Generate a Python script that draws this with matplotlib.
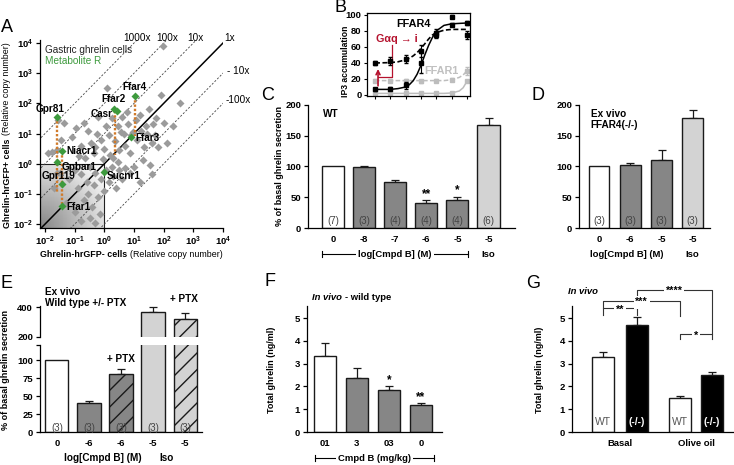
import numpy as np
import matplotlib
matplotlib.use('Agg')
import matplotlib.pyplot as plt
from matplotlib.lines import Line2D
from matplotlib.ticker import NullLocator

plt.rcParams.update({
    'font.family': ['Liberation Sans', 'DejaVu Sans'],
    'font.size': 7,
    'mathtext.fontset': 'custom',
    'mathtext.rm': 'Liberation Sans',
    'mathtext.bf': 'Liberation Sans:bold',
    'mathtext.it': 'Liberation Sans:italic',
    'hatch.color': 'black',
    'hatch.linewidth': 1.0,
    'axes.linewidth': 0.9,
})

# ---------------- data ----------------
# A: receptor expression, log10 copy numbers (GFP- cells, GFP+ cells)
gray_log_x = [-1.9, -1.75, -1.6, -1.55, -1.45, -1.35, -1.1, -0.95, -0.8, -0.7, -0.55, -0.45,
              -0.35, -0.25, -0.2, -0.1, 0.0, 0.05, 0.1, 0.15, 0.2, 0.25, 0.35, 0.45, 0.5,
              0.55, 0.6, 0.7, 0.75, 0.8, 0.85, 0.95, 1.05, 1.1, 1.2, 1.25, 1.35, 1.45, 1.5,
              1.6, 1.65, 1.75, 1.8, 1.92, 2.0, 2.1, 2.3, 2.55, 1.98,
              -1.5, -1.2, -1.0, -0.9, -0.8, -0.7, -0.6, -0.55, -0.5, -0.4, -0.35, -0.3,
              -0.2, -0.15, -0.1, 0.0, 0.05, 0.15, 0.25, 0.3, 0.4, 0.5, 0.6, 0.7, 0.85,
              1.0, 1.3, 1.55, 1.6, 1.2, -1.7, -1.3, -1.0, -0.8, -0.5, -0.3, -1.6,
              -0.65, -0.3, 0.3, 0.9, 1.4, -0.05, 0.45, -0.85, 1.7, 0.65]
gray_log_y = [0.35, 0.4, 0.45, 1.45, 0.8, 1.35, 0.9, 1.2, 0.6, 1.35, 1.1, 0.7,
              0.35, 1.0, 1.55, 0.8, 0.5, 1.25, 2.5, 0.95, 0.3, 1.5, 0.75, 1.25, 0.45,
              1.05, 1.55, 0.6, 1.7, 1.3, 0.35, 1.05, 1.45, 0.8, 1.6, 1.1, 0.55, 1.0, 1.8,
              0.7, 1.3, 1.5, 0.55, 2.28, 1.35, 0.7, 1.25, 2.0, 3.89,
              -0.3, -0.5, -0.2, -0.8, -0.35, -1.2, -0.6, -1.0, -0.1, -1.45, -0.7, -0.3,
              -1.1, -1.65, -0.5, -0.9, -0.2, -0.6, -0.1, -0.4, -0.8, -0.2, -0.5, -0.15, -0.3,
              -0.1, 0.12, -0.05, -0.35, -0.6, -0.8, -1.3, -1.6, -1.9, -1.8, -1.95, -0.3,
              0.2, 0.55, 0.2, 0.95, 1.25, 0.15, 0.05, 0.25, 0.95, 1.0]
green_names = ['Gpr81', 'Niacr1', 'Gpbar1', 'Gpr119', 'Ffar1', 'Ffar2', 'Casr', 'Ffar4', 'Ffar3', 'Sucnr1']
green_x = [0.026, 0.038, 0.026, 0.038, 0.038, 2.1, 2.6, 10.7, 7.8, 1.0]
green_y = [35, 2.6, 1.1, 0.21, 0.04, 65, 54, 170, 7.9, 0.55]
orange_x = [0.026, 0.038, 2.3, 10.7]
orange_top = [35, 2.6, 55, 170]
orange_bottom = [0.12, 0.04, 2.0, 8.0]
fold_lines = [1000, 100, 10, 0.1, 0.01]

# B: IP3 accumulation
b_ticklabels = ['0', '-10', '-9', '-8', '-7', '-6', '-5']
b_pos = [0, 1, 2, 3, 4, 5, 6]
ffar4 = [7, 8, 12, 40, 77, 98, 90]
ffar4_err = [2, 2, 4, 12, 5, 2, 2]
ffar4_gi = [40, 42, 45, 55, 75, 88, 75]
ffar4_gi_err = [3, 5, 5, 8, 4, 2, 5]
ffar1 = [2, 2, 2, 2, 2, 3, 17]
ffar1_gi = [18, 18, 18, 17, 18, 19, 30]
ffar1_gi_err = [2, 2, 2, 2, 2, 2, 5]
fit_x = [0, 1, 1.5, 2, 2.25, 2.5, 2.75, 3, 3.25, 3.5, 3.75, 4, 4.5, 5, 6]
ffar4_fit = [7, 7, 8, 10, 13, 18, 26, 37, 50, 62, 72, 80, 87, 89, 90]
ffar4_gi_fit = [40, 40.5, 41.5, 44, 46, 49, 53, 58, 64, 70, 75, 78, 81, 82, 82]
ffar1_fit_x = [0, 4.5, 5, 5.5, 5.75, 6]
ffar1_fit = [2, 2, 2.5, 5, 9, 17]
ffar1_gi_fit = [18, 18, 19, 22, 25, 30]

# C: WT ex vivo
c_labels = ['0', '-8', '-7', '-6', '-5', '-5']
c_vals = [100, 99, 75, 40, 45, 168]
c_errs = [0, 2, 3, 6, 6, 11]
c_n = ['(7)', '(3)', '(4)', '(4)', '(4)', '(6)']
c_sig = ['', '', '', '**', '*', '']

# D: FFAR4(-/-) ex vivo
d_labels = ['0', '-6', '-5', '-5']
d_vals = [100, 102, 111, 178]
d_errs = [0, 3, 15, 14]
d_n = ['(3)', '(3)', '(3)', '(3)']

# E: WT +/- PTX
e_labels = ['0', '-6', '-6', '-5', '-5']
e_vals = [100, 40, 81, 370, 325]
e_errs = [0, 3.5, 7, 30, 35]
e_n = ['(3)', '(3)', '(3)', '(3)', '(3)']
e_ptx = [False, False, True, False, True]

# F: in vivo wild type
f_labels = ['01', '3', '03', '0']
f_vals = [3.35, 2.38, 1.85, 1.17]
f_errs = [0.55, 0.43, 0.17, 0.10]
f_sig = ['', '', '*', '**']

# G: in vivo WT vs FFAR4(-/-)
g_pos = [0, 1, 2.3, 3.25]
g_vals = [3.3, 4.68, 1.48, 2.52]
g_errs = [0.2, 0.37, 0.08, 0.10]
g_geno = ['WT', '(-/-)', 'WT', '(-/-)']
g_groups = ['Basal', 'Olive oil']

DARK = '#868686'
LIGHT = '#d3d3d3'
EDGE = '#1a1a1a'
TICK_FS = 6.8

W, H = 734, 465
fig = plt.figure(figsize=(W / 100, H / 100), dpi=100)


def add_ax(l, t, r, b):
    return fig.add_axes([l / W, 1 - b / H, (r - l) / W, (b - t) / H])


def ftxt(x, y, s, **kw):
    return fig.text(x / W, 1 - y / H, s, **kw)


def fline(xs, ys, **kw):
    fig.add_artist(Line2D([x / W for x in xs], [1 - y / H for y in ys], **kw))


def bracket(x0, x1, y, label, fs=6.8):
    fline([x0, x1], [y, y], color='k', lw=0.8)
    fline([x0, x0], [y - 3, y + 3], color='k', lw=0.8)
    fline([x1, x1], [y - 3, y + 3], color='k', lw=0.8)
    ftxt((x0 + x1) / 2, y, label, ha='center', va='center', weight='bold', fontsize=fs,
         bbox=dict(facecolor='white', edgecolor='none', pad=1.5))


def style_bar_ax(ax):
    ax.spines['top'].set_visible(False)
    ax.spines['right'].set_visible(False)
    ax.tick_params(axis='y', direction='out', length=3, width=0.9, labelsize=TICK_FS, pad=2)
    ax.tick_params(axis='x', length=0, labelsize=TICK_FS, pad=5)
    for lab in ax.get_xticklabels() + ax.get_yticklabels():
        lab.set_fontweight('bold')


def draw_bars(ax, pos, vals, errs, colors, width, hatches=None):
    ax.bar(pos, vals, width, color=colors, edgecolor=EDGE, linewidth=1.0, zorder=2,
           hatch=hatches)
    idx = [i for i, e in enumerate(errs) if e > 0]
    ax.errorbar([pos[i] for i in idx], [vals[i] for i in idx],
                yerr=[[0] * len(idx), [errs[i] for i in idx]], fmt='none',
                ecolor=EDGE, elinewidth=0.9, capsize=3.2, capthick=0.9, zorder=1)


# ---------------- A ----------------
axA = add_ax(40, 40, 223, 228)
axA.set_xscale('log')
axA.set_yscale('log')
axA.set_xlim(10 ** -2.17, 1e4)
axA.set_ylim(10 ** -2.13, 10 ** 4.1)
ex = np.linspace(-2.17, 0, 81)
ey = np.linspace(-2.13, 0, 81)
cx = (ex[:-1] + ex[1:]) / 2
cy = (ey[:-1] + ey[1:]) / 2
GX, GY = np.meshgrid(cx, cy)
shade = np.clip(np.hypot(GX + 2.17, GY + 2.13) / 2.7, 0, 1)
axA.pcolormesh(10 ** ex, 10 ** ey, 0.52 + 0.45 * shade, cmap='gray', vmin=0, vmax=1, zorder=0)
axA.plot([10 ** -2.17, 1], [1, 1], color='#222', lw=0.8, zorder=1)
axA.plot([1, 1], [10 ** -2.13, 1], color='#222', lw=0.8, zorder=1)
xx = np.array([1e-4, 1e6])
for k in fold_lines:
    axA.plot(xx, xx * k, color='#444', lw=0.6, ls=(0, (2.5, 2)), zorder=1)
axA.plot(xx, xx, color='k', lw=1.1, zorder=1)
axA.plot(10 ** np.array(gray_log_x), 10 ** np.array(gray_log_y), 'D', color='#9b9b9b',
         ms=4.0, mec='none', zorder=2)
for xo, yt, yb in zip(orange_x, orange_top, orange_bottom):
    axA.plot([xo, xo], [yt, yb], color='#d07a2a', lw=1.7, ls=(0, (1, 0.8)), zorder=3)
axA.plot(green_x, green_y, 'D', color='#3d9a3d', ms=4.2, mec='none', zorder=4)
label_off = {'Gpr81': (-5, 6, 'center'), 'Niacr1': (3, 0, 'left'), 'Gpbar1': (3, -3, 'left'),
             'Gpr119': (-3, 6, 'center'), 'Ffar1': (3, -1, 'left'), 'Ffar2': (0, 7, 'center'),
             'Casr': (-3, -2, 'right'), 'Ffar4': (0, 7, 'center'), 'Ffar3': (3, -1, 'left'),
             'Sucnr1': (2, -3, 'left')}
for nm, gx, gy in zip(green_names, green_x, green_y):
    dx, dy, ha = label_off[nm]
    axA.annotate(nm, (gx, gy), xytext=(dx, dy), textcoords='offset points', ha=ha,
                 va='center', fontsize=7.2, weight='bold', zorder=5)
axA.set_xticks([10.0 ** k for k in range(-2, 5)])
axA.set_yticks([10.0 ** k for k in range(-2, 5)])
axA.set_xticklabels([r'$\mathbf{10^{%d}}$' % k for k in range(-2, 5)])
axA.set_yticklabels([r'$\mathbf{10^{%d}}$' % k for k in range(-2, 5)])
axA.xaxis.set_minor_locator(NullLocator())
axA.yaxis.set_minor_locator(NullLocator())
axA.spines['top'].set_visible(False)
axA.spines['right'].set_visible(False)
axA.tick_params(direction='out', length=3, width=0.9, labelsize=TICK_FS, pad=2)
axA.text(0.03, 0.975, 'Gastric ghrelin cells', transform=axA.transAxes, fontsize=7.2,
         va='top', ha='left', color='#222')
axA.text(0.03, 0.915, 'Metabolite R', transform=axA.transAxes, fontsize=7.2,
         va='top', ha='left', color='#3d9a3d')
for s, x in zip(['1000x', '100x', '10x', '1x'], [137, 167, 195, 230]):
    ftxt(x, 38, s, ha='center', va='center', fontsize=7.2)
ftxt(238, 71, '- 10x', ha='center', va='center', fontsize=7.2)
ftxt(238, 100, '-100x', ha='center', va='center', fontsize=7.2)
ftxt(7, 228, 'Ghrelin-hrGFP+ cells', rotation=90, rotation_mode='anchor', ha='left',
     va='center', fontsize=6.4, weight='bold')
ftxt(7, 42, '(Relative copy number)', rotation=90, rotation_mode='anchor', ha='right',
     va='center', fontsize=6.4)
ftxt(40, 254, 'Ghrelin-hrGFP- cells', ha='left', va='center', fontsize=6.4, weight='bold')
ftxt(223, 254, '(Relative copy number)', ha='right', va='center', fontsize=6.4)

# ---------------- B ----------------
axB = add_ax(367, 13, 470, 96)
axB.set_xlim(-0.52, 6.2)
axB.set_ylim(-1.25, 102.5)
axB.plot(ffar1_fit_x, ffar1_gi_fit, color='#bdbdbd', lw=1.1, ls=(0, (3, 1.5)), zorder=1)
axB.plot(ffar1_fit_x, ffar1_fit, color='#bdbdbd', lw=1.1, zorder=1)
axB.errorbar(b_pos, ffar1_gi, yerr=ffar1_gi_err, fmt='s', color='#bdbdbd', ms=2.5,
             elinewidth=0.8, capsize=1.5, zorder=2)
axB.plot(b_pos, ffar1, 's', color='#bdbdbd', ms=2.5, zorder=2)
axB.plot(fit_x, ffar4_gi_fit, color='k', lw=1.2, ls=(0, (3, 1.5)), zorder=3)
axB.plot(fit_x, ffar4_fit, color='k', lw=1.1, zorder=3)
axB.errorbar(b_pos, ffar4_gi, yerr=ffar4_gi_err, fmt='s', color='k', ms=2.5,
             elinewidth=0.8, capsize=1.5, zorder=4)
axB.errorbar(b_pos, ffar4, yerr=ffar4_err, fmt='s', color='k', ms=2.5,
             elinewidth=0.8, capsize=1.5, zorder=4)
axB.set_xticks(b_pos)
axB.set_xticklabels(b_ticklabels)
axB.set_yticks(range(0, 101, 20))
axB.tick_params(direction='out', length=2, width=0.8, labelsize=TICK_FS, pad=2)
for lab in axB.get_xticklabels() + axB.get_yticklabels():
    lab.set_fontweight('bold')
axB.text(2.5, 89, 'FFAR4', fontsize=7.8, weight='bold', ha='center', va='center')
axB.text(4.3, 30, 'FFAR1', fontsize=7.8, weight='bold', ha='center', va='center',
         color='#c0c0c0')
red = '#b5122e'
axB.text(1.4, 70, 'Gαq → i', fontsize=7.8, weight='bold', ha='center', va='center',
         color=red)
axB.plot([0.2, 1.1, 1.1], [22, 22, 62], color=red, lw=0.9)
axB.annotate('', xy=(0.2, 36), xytext=(0.2, 8),
             arrowprops=dict(arrowstyle='->', color=red, lw=1.2))
ftxt(346, 61, 'IP3 accumulation', rotation=90, ha='center', va='center', fontsize=6.2,
     weight='bold')

# ---------------- C ----------------
axC = add_ax(308, 103, 515, 228)
cpos = np.arange(len(c_vals))
draw_bars(axC, cpos, c_vals, c_errs, ['white', DARK, DARK, DARK, DARK, LIGHT], 0.71)
axC.set_xlim(-0.8, 5.85)
axC.set_ylim(0, 203)
axC.spines['left'].set_bounds(0, 200)
axC.set_yticks([0, 50, 100, 150, 200])
axC.set_xticks(cpos)
axC.set_xticklabels(c_labels)
style_bar_ax(axC)
for p, n in zip(cpos, c_n):
    axC.text(p, 11, n, ha='center', va='center', fontsize=7, color='#444')
for p, v, e, s in zip(cpos, c_vals, c_errs, c_sig):
    if s:
        axC.text(p, v + e, s, ha='center', va='bottom', fontsize=8.5, weight='bold')
axC.text(0.07, 0.95, 'WT', transform=axC.transAxes, fontsize=7.2, weight='bold',
         va='top', ha='left')
ftxt(280, 166, '% of basal ghrelin secretion', rotation=90, ha='center', va='center',
     fontsize=6.5, weight='bold')
bracket(322, 468, 254, 'log[Cmpd B] (M)')
ftxt(488, 254, 'Iso', ha='center', va='center', fontsize=6.8, weight='bold')

# ---------------- D ----------------
axD = add_ax(579, 103, 710, 228)
dpos = np.arange(len(d_vals))
draw_bars(axD, dpos, d_vals, d_errs, ['white', DARK, DARK, LIGHT], 0.67)
axD.set_xlim(-0.64, 3.55)
axD.set_ylim(0, 203)
axD.spines['left'].set_bounds(0, 200)
axD.set_yticks([0, 50, 100, 150, 200])
axD.set_xticks(dpos)
axD.set_xticklabels(d_labels)
style_bar_ax(axD)
for p, n in zip(dpos, d_n):
    axD.text(p, 11, n, ha='center', va='center', fontsize=7, color='#444')
axD.text(0.09, 0.95, 'Ex vivo\nFFAR4(-/-)', transform=axD.transAxes, fontsize=7.2,
         weight='bold', va='top', ha='left', linespacing=1.1)
ftxt(627, 254, 'log[Cmpd B] (M)', ha='center', va='center', fontsize=6.8, weight='bold')
ftxt(692, 254, 'Iso', ha='center', va='center', fontsize=6.8, weight='bold')

# ---------------- E (broken axis) ----------------
epos = np.arange(len(e_vals))
e_colors = ['white', DARK, DARK, LIGHT, LIGHT]
e_hatch = ['//' if h else '' for h in e_ptx]
axEu = add_ax(40, 306, 202, 337)
axEl = add_ax(40, 345, 202, 432)
for ax in (axEu, axEl):
    draw_bars(ax, epos, e_vals, e_errs, e_colors, 0.72, hatches=e_hatch)
    ax.set_xlim(-0.53, 4.53)
axEu.set_ylim(200, 410)
axEl.set_ylim(0, 121)
axEu.set_yticks([200, 400])
axEu.set_xticks([])
axEu.spines['bottom'].set_visible(False)
axEl.set_yticks([0, 25, 50, 75, 100, 121])
axEl.set_yticklabels(['0', '25', '50', '75', '100', ''])
axEl.set_xticks(epos)
axEl.set_xticklabels(e_labels)
style_bar_ax(axEu)
style_bar_ax(axEl)
for p, n in zip(epos, e_n):
    axEl.text(p, 6, n, ha='center', va='center', fontsize=7, color='#444')
axEl.text(2, 101, '+ PTX', ha='center', va='center', fontsize=7.2, weight='bold')
ftxt(184, 304, '+ PTX', ha='center', va='bottom', fontsize=7.2, weight='bold')
ftxt(45, 287, 'Ex vivo\nWild type +/- PTX', ha='left', va='top', fontsize=7.2,
     weight='bold', linespacing=1.1)
ftxt(6, 370, '% of basal ghrelin secretion', rotation=90, ha='center', va='center',
     fontsize=6.5, weight='bold')
ftxt(103, 458, 'log[Cmpd B] (M)', ha='center', va='center', fontsize=7.2, weight='bold')
ftxt(167, 458, 'Iso', ha='center', va='center', fontsize=7.2, weight='bold')

# ---------------- F ----------------
axF = add_ax(307, 306, 442, 432)
fpos = np.arange(len(f_vals))
draw_bars(axF, fpos, f_vals, f_errs, ['white', DARK, DARK, DARK], 0.69)
axF.set_xlim(-0.56, 3.66)
axF.set_ylim(0, 5.53)
axF.set_yticks(range(0, 6))
axF.set_xticks(fpos)
axF.set_xticklabels(f_labels)
style_bar_ax(axF)
for p, v, e, s in zip(fpos, f_vals, f_errs, f_sig):
    if s:
        axF.text(p, v + e, s, ha='center', va='bottom', fontsize=8.5, weight='bold')
ftxt(312, 297, 'In vivo', ha='left', va='center', fontsize=6.8, weight='bold', style='italic')
ftxt(391, 297, '- wild type', ha='right', va='center', fontsize=6.8, weight='bold')
ftxt(271, 370, 'Total ghrelin (ng/ml)', rotation=90, ha='center', va='center',
     fontsize=6.5, weight='bold')
bracket(315, 434, 458, 'Cmpd B (mg/kg)')

# ---------------- G ----------------
axG = add_ax(572, 306, 733, 432)
draw_bars(axG, g_pos, g_vals, g_errs, ['white', 'black', 'white', 'black'], 0.66)
axG.set_xlim(-0.93, 3.88)
axG.set_ylim(0, 5.53)
axG.set_yticks(range(0, 6))
axG.set_xticks([(g_pos[0] + g_pos[1]) / 2, (g_pos[2] + g_pos[3]) / 2])
axG.set_xticklabels(g_groups)
style_bar_ax(axG)
for p, gtxt in zip(g_pos, g_geno):
    if gtxt == 'WT':
        axG.text(p, 0.42, gtxt, ha='center', va='center', fontsize=7.5, color='#555')
    else:
        axG.text(p, 0.42, gtxt, ha='center', va='center', fontsize=7.5, color='white',
                 weight='bold')


def sig(ax, x0, x1, y, yl0, yl1, label):
    ax.plot([x0, x0, x1, x1], [yl0, y, y, yl1], color='#333', lw=0.8, clip_on=False)
    ax.text((x0 + x1) / 2, y - 0.06, label, ha='center', va='center', fontsize=7.8,
            weight='bold', bbox=dict(facecolor='white', edgecolor='none', pad=1.2),
            clip_on=False)


sig(axG, g_pos[0], g_pos[1], 5.44, 5.15, 5.15, '**')
sig(axG, g_pos[0], g_pos[2], 5.76, 5.44, 5.10, '***')
sig(axG, g_pos[1], g_pos[3], 6.24, 5.76, 4.30, '****')
sig(axG, g_pos[2], g_pos[3], 4.30, 4.08, 4.08, '*')
ftxt(583, 292, 'In vivo', ha='center', va='center', fontsize=6.8, weight='bold',
     style='italic')
ftxt(540, 370, 'Total ghrelin (ng/ml)', rotation=90, ha='center', va='center',
     fontsize=6.5, weight='bold')

# ---------------- panel letters ----------------
for s, x, y in [('A', 7, 28), ('B', 340, 8), ('C', 268, 95), ('D', 538, 96),
                ('E', 7, 283), ('F', 270, 282), ('G', 533, 283)]:
    ftxt(x, y, s, ha='center', va='center', fontsize=13)

fig.savefig('out.png', dpi=100)
